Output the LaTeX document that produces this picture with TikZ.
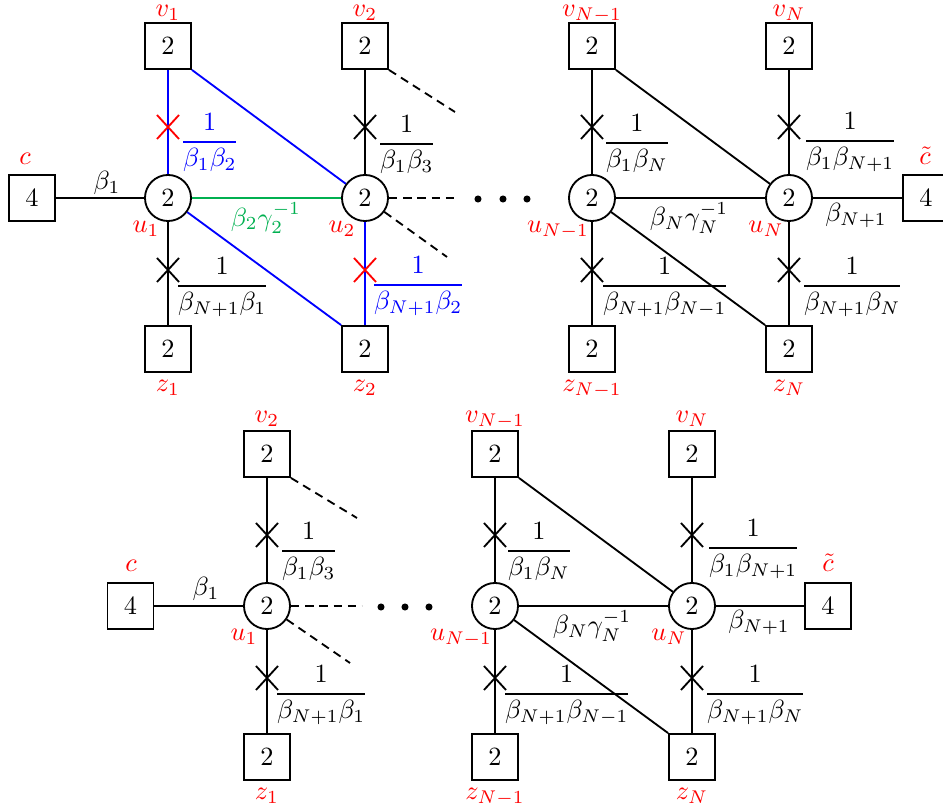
\documentclass[tikz,border=0pt]{standalone}
\usepackage{amsmath}
\usetikzlibrary{calc}
\definecolor{myred}{RGB}{255,0,0}
\definecolor{myblue}{RGB}{0,0,255}
\definecolor{mygreen}{RGB}{0,176,80}
\newcommand{\crs}[3]{\draw[#3,line width=0.7pt] (#1-11,#2-12) -- (#1+11,#2+12) (#1-11,#2+12) -- (#1+11,#2-12);}
\newcommand{\frlab}[5]{\node[fr,#5] (#1) at (#2-3,#3+6.6) {$\dfrac{1}{#4}$};}
\begin{document}
\begin{tikzpicture}[x=0.38pt,y=-0.38pt,line width=0.7pt,
  box/.style={draw,minimum size=17.5pt,inner sep=0pt},
  circ/.style={draw,circle,minimum size=17.5pt,inner sep=0pt},
  rl/.style={text=myred,anchor=base,inner sep=0pt},
  fr/.style={anchor=base west,inner sep=0pt},
  el/.style={inner sep=0pt},
  dsh/.style={dash pattern=on 3.2pt off 2.2pt},
  dotn/.style={fill,circle,minimum size=2.7pt,inner sep=0pt}]
\clip (0,0) rectangle (943,811);
\useasboundingbox (0,0) rectangle (943,811);
% ---------------- top diagram ----------------
\node[box] (c) at (32,198) {4};
\node[box] (v1) at (168,46) {2};
\node[circ] (u1) at (168,198) {2};
\node[box] (z1) at (168,349) {2};
\node[box] (v2) at (365,46) {2};
\node[circ] (u2) at (365,198) {2};
\node[box] (z2) at (365,349) {2};
\node[box] (vN1) at (592,46) {2};
\node[circ] (uN1) at (592,198) {2};
\node[box] (zN1) at (592,349) {2};
\node[box] (vN) at (789,46) {2};
\node[circ] (uN) at (789,198) {2};
\node[box] (zN) at (789,349) {2};
\node[box] (ct) at (926,198) {4};
\node[rl] (lc) at (25,165) {$c$};
\node[rl] (lv1) at (168,17) {$v_1$};
\node[rl] (lu1) at (146,233) {$u_1$};
\node[rl] (lz1) at (168,392) {$z_1$};
\node[rl] (lv2) at (365,17) {$v_2$};
\node[rl] (lu2) at (342,233) {$u_2$};
\node[rl] (lz2) at (365,392) {$z_2$};
\node[rl] (lvN1) at (592,17) {$v_{N-1}$};
\node[rl] (luN1) at (558,233) {$u_{N-1}$};
\node[rl] (lzN1) at (592,392) {$z_{N-1}$};
\node[rl] (lvN) at (789,17) {$v_N$};
\node[rl] (luN) at (766,233) {$u_N$};
\node[rl] (lzN) at (789,392) {$z_N$};
\node[rl] (lct) at (925,165) {$\tilde{c}$};
\draw (c) -- (u1);
\draw[myblue] (v1) -- (u1);
\draw[myblue] (v1.south east) -- (u2);
\draw[mygreen] (u1) -- (u2);
\draw[myblue] (u1) -- (z2.north west);
\draw (u1) -- (z1);
\draw (v2) -- (u2);
\draw[myblue] (u2) -- (z2);
\coordinate (d1) at (455,112);
\coordinate (d2) at (458,198);
\coordinate (d3) at (447,257);
\draw[dsh] (v2.south east) -- (d1);
\draw[dsh] (u2) -- (d2);
\draw[dsh] (u2) -- (d3);
\draw (vN1) -- (uN1);
\draw (vN1.south east) -- (uN);
\draw (uN1) -- (uN);
\draw (uN1) -- (zN.north west);
\draw (uN1) -- (zN1);
\draw (vN) -- (uN);
\draw (uN) -- (zN);
\draw (uN) -- (ct);
\crs{168}{127}{myred}
\crs{365}{270}{myred}
\crs{365}{127}{black}
\crs{168}{270}{black}
\crs{592}{127}{black}
\crs{592}{270}{black}
\crs{789}{127}{black}
\crs{789}{270}{black}
\node[dotn] (p1) at (478,199) {};
\node[dotn] (p2) at (503,199) {};
\node[dotn] (p3) at (527,199) {};
\frlab{fA}{182}{142}{\beta_1\beta_2}{text=myblue}
\frlab{fB}{379}{144}{\beta_1\beta_3}{}
\frlab{fC}{177}{286}{\beta_{N+1}\beta_1}{}
\frlab{fD}{373}{285}{\beta_{N+1}\beta_2}{text=myblue}
\frlab{fE}{605}{143}{\beta_1\beta_N}{}
\frlab{fF}{805}{141}{\beta_1\beta_{N+1}}{}
\frlab{fG}{602}{286}{\beta_{N+1}\beta_{N-1}}{}
\frlab{fH}{803}{286}{\beta_{N+1}\beta_N}{}
\node[el] (b1) at (107,183) {$\beta_1$};
\node[el,text=mygreen] (bg2) at (266,218) {$\beta_2\gamma_2^{-1}$};
\node[el] (bgN) at (689,218) {$\beta_N\gamma_N^{-1}$};
\node[el] (bN1) at (856,215) {$\beta_{N+1}$};
% ---------------- bottom diagram ----------------
\node[box] (cb) at (130.5,606) {4};
\node[box] (v2b) at (267,454) {2};
\node[circ] (u1b) at (267,606) {2};
\node[box] (z1b) at (267,757) {2};
\node[box] (vN1b) at (495,454) {2};
\node[circ] (uN1b) at (495,606) {2};
\node[box] (zN1b) at (495,757) {2};
\node[box] (vNb) at (692,454) {2};
\node[circ] (uNb) at (692,606) {2};
\node[box] (zNb) at (692,757) {2};
\node[box] (ctb) at (828,606) {4};
\node[rl] (lcb) at (131,572) {$c$};
\node[rl] (lv2b) at (267,423) {$v_2$};
\node[rl] (lu1b) at (244,641) {$u_1$};
\node[rl] (lz1b) at (267,800) {$z_1$};
\node[rl] (lvN1b) at (495,423) {$v_{N-1}$};
\node[rl] (luN1b) at (461,641) {$u_{N-1}$};
\node[rl] (lzN1b) at (495,800) {$z_{N-1}$};
\node[rl] (lvNb) at (692,423) {$v_N$};
\node[rl] (luNb) at (669,641) {$u_N$};
\node[rl] (lzNb) at (692,800) {$z_N$};
\node[rl] (lctb) at (828,572) {$\tilde{c}$};
\draw (cb) -- (u1b);
\draw (v2b) -- (u1b);
\draw (u1b) -- (z1b);
\coordinate (db1) at (357,518);
\coordinate (db2) at (362,606);
\coordinate (db3) at (350,663);
\draw[dsh] (v2b.south east) -- (db1);
\draw[dsh] (u1b) -- (db2);
\draw[dsh] (u1b) -- (db3);
\draw (vN1b) -- (uN1b);
\draw (vN1b.south east) -- (uNb);
\draw (uN1b) -- (uNb);
\draw (uN1b) -- (zNb.north west);
\draw (uN1b) -- (zN1b);
\draw (vNb) -- (uNb);
\draw (uNb) -- (zNb);
\draw (uNb) -- (ctb);
\crs{267}{535}{black}
\crs{267}{678}{black}
\crs{495}{535}{black}
\crs{495}{678}{black}
\crs{692}{535}{black}
\crs{692}{678}{black}
\node[dotn] (q1) at (381,607) {};
\node[dotn] (q2) at (405,607) {};
\node[dotn] (q3) at (429,607) {};
\frlab{gB}{281}{551}{\beta_1\beta_3}{}
\frlab{gC}{276}{694}{\beta_{N+1}\beta_1}{}
\frlab{gE}{507}{551}{\beta_1\beta_N}{}
\frlab{gF}{708}{548}{\beta_1\beta_{N+1}}{}
\frlab{gG}{504}{694}{\beta_{N+1}\beta_{N-1}}{}
\frlab{gH}{706}{694}{\beta_{N+1}\beta_N}{}
\node[el] (b1b) at (206,589) {$\beta_1$};
\node[el] (bgNb) at (592,626) {$\beta_N\gamma_N^{-1}$};
\node[el] (bN1b) at (759,622) {$\beta_{N+1}$};
\end{tikzpicture}
\end{document}
